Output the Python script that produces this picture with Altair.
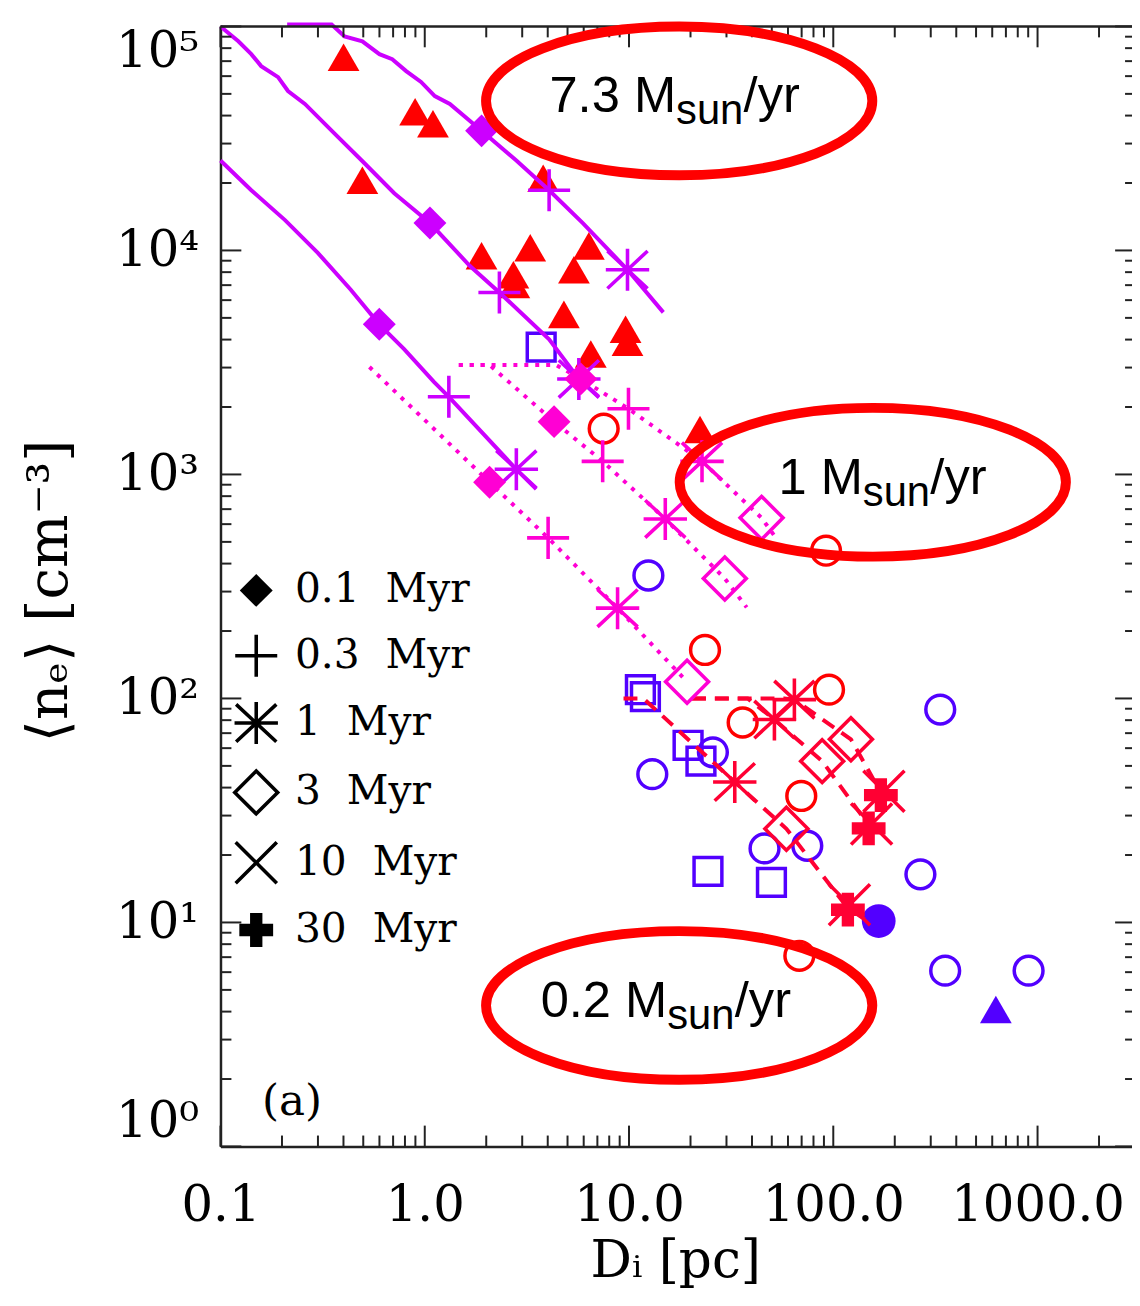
import math
import altair as alt
import pandas as pd

W, H = 918, 1128

# ---------------- model tracks ----------------
line_a_x = [0.212, 0.35, 0.405, 0.495, 0.6, 0.693, 0.811, 0.959, 1.12, 1.327, 1.897, 2.808, 4.063, 5.94, 9.83, 14.72]
line_a_y = [1.02e5, 1.02e5, 90300, 85800, 75200, 71400, 63200, 56500, 48900, 45100, 34200, 25200, 18560, 13250, 8200, 5290]
line_b_x = [0.1, 0.1223, 0.1415, 0.1582, 0.1914, 0.214, 0.259, 0.362, 0.507, 0.709, 1.06, 1.66, 2.32, 4.063, 5.68, 7.11]
line_b_y = [1e5, 85800, 75200, 66500, 59400, 51500, 45100, 33200, 24500, 18000, 13250, 8545, 6490, 4015, 2670, 2222]
line_c_x = [0.1, 0.1415, 0.207, 0.2995, 0.4333, 0.599, 0.7925, 1.109, 1.312, 2.808, 3.513]
line_c_y = [25200, 18560, 13660, 9760, 6690, 4680, 3625, 2590, 2222, 1054, 860]

dot_t_x = [1.468, 4.393, 5.81, 9.94, 22.77, 44.55, 51.5]
dot_t_y = [3080, 3080, 2670, 1965, 1144, 640, 532]
dot_m_x = [1.468, 2.076, 4.296, 7.43, 15.05, 29.44, 37.67]
dot_m_y = [3080, 3080, 1721, 1144, 633, 343, 255]
dot_l_x = [0.536, 2.076, 4.017, 8.79, 19.24]
dot_l_y = [3018, 923, 521, 253, 118.7]

dash_1_x = [9.40, 11.76, 32.94, 58.95, 117.9, 152.6]
dash_1_y = [100, 100, 42.35, 26.2, 11.58, 9.94]
dash_2_x = [20.35, 38.08, 51.5, 88.2, 150.9]
dash_2_y = [100, 100, 80.5, 52.5, 26.8]
dash_3_x = [20.35, 57.6, 64.5, 122, 172.5]
dash_3_y = [100, 100, 98.8, 65.7, 37.5]

# ---------------- model age markers ----------------
ages = ["0.1 Myr", "0.3 Myr", "1 Myr", "3 Myr", "10 Myr", "30 Myr"]

mk_solid_age = ["0.1 Myr", "0.3 Myr", "1 Myr"] * 3
mk_solid_x = [1.897, 4.063, 9.83, 1.06, 2.32, 5.68, 0.599, 1.312, 2.808]
mk_solid_y = [34200, 18560, 8200, 13250, 6490, 2670, 4680, 2222, 1054]

mk_dot_age = ["0.1 Myr", "0.3 Myr", "1 Myr", "3 Myr"] * 3
mk_dot_x = [5.81, 9.94, 22.77, 44.55, 4.296, 7.43, 15.05, 29.44, 2.076, 4.017, 8.79, 19.24]
mk_dot_y = [2670, 1965, 1144, 640, 1721, 1144, 633, 343, 923, 521, 253, 118.7]

mk_dash_age = ["1 Myr", "3 Myr", "10 Myr", "30 Myr"] * 3
mk_dash_x = [32.94, 58.95, 120, 117.9, 51.5, 88.2, 154, 149, 64.5, 122, 177, 171]
mk_dash_y = [42.35, 26.2, 12.0, 11.4, 80.5, 52.5, 27.5, 26.3, 98.8, 65.7, 38.5, 37.0]

# ---------------- observed regions ----------------
red_tri_x = [0.4005, 0.897, 1.097, 0.495, 3.80, 1.897, 3.284, 2.716, 2.746, 6.36, 5.375, 4.80, 9.62, 9.83, 6.50, 22.26]
red_tri_y = [72900, 41600, 36800, 20560, 20980, 9465, 10270, 7795, 7040, 10480, 8200, 5183, 4446, 3893, 3445, 1586]

blue_sq_x = [3.715, 11.37, 12.03, 19.46, 22.5, 24.35, 49.8]
blue_sq_y = [3701, 109.4, 101.9, 61.8, 52.5, 16.9, 15.1]

blue_ci_x = [12.44, 13.0, 25.74, 46.07, 74.6, 333.9, 267, 353, 904]
blue_ci_y = [353.9, 45.9, 57.5, 21.4, 22.0, 89.2, 16.4, 6.09, 6.09]

blue_dot_x = [166.9]
blue_dot_y = [10.15]
blue_tri_x = [625]
blue_tri_y = [4.09]

red_ci_x = [7.515, 23.55, 36.0, 95.3, 69.7, 92.2, 68.2]
red_ci_y = [1602, 164.6, 78.1, 109.4, 36.7, 456.6, 7.10]

# ---------------- annotations ----------------
ann_main = ["7.3 M", "1 M", "0.2 M"]
ann_x = [17.0, 139.5, 15.39]
ann_y = [41600, 817, 3.77]
ell_x = [17.6, 156.1, 17.6]
ell_y = [46500, 923, 4.26]

panel_label = ["(a)"]
panel_x = [0.224]
panel_y = [1.58]

# ---------------- axis ticks ----------------
x_major = [0.1, 1, 10, 100, 1000]
x_labels = ["0.1", "1.0", "10.0", "100.0", "1000.0"]
x_minor = [0.2, 0.3, 0.4, 0.5, 0.6, 0.7, 0.8, 0.9,
           2, 3, 4, 5, 6, 7, 8, 9,
           20, 30, 40, 50, 60, 70, 80, 90,
           200, 300, 400, 500, 600, 700, 800, 900, 2000]
y_major = [1, 10, 100, 1000, 10000, 100000]
y_labels = ["10⁰", "10¹", "10²", "10³", "10⁴", "10⁵"]
y_minor = [2, 3, 4, 5, 6, 7, 8, 9,
           20, 30, 40, 50, 60, 70, 80, 90,
           200, 300, 400, 500, 600, 700, 800, 900,
           2000, 3000, 4000, 5000, 6000, 7000, 8000, 9000,
           20000, 30000, 40000, 50000, 60000, 70000, 80000, 90000]

# ---------------- styles ----------------
VIOLET = "#CC00FF"
PINK = "#FF00D4"
CRIMSON = "#FF0033"
RED = "#FF0000"
BLUE = "#5200FF"
FRAME = "#222222"
SERIF = "DejaVu Serif"

# marker glyphs: all drawn as filled outlines (unit box -1..1, 1 unit = 23 px at size 2116)
LW = 0.078  # half line width in unit coords (~3.6 px lines)


def bar(x1, y1, x2, y2, w=LW):
    dx, dy = x2 - x1, y2 - y1
    L = math.hypot(dx, dy)
    nx, ny = -dy / L * w, dx / L * w
    pts_ = [(x1 + nx, y1 + ny), (x2 + nx, y2 + ny), (x2 - nx, y2 - ny), (x1 - nx, y1 - ny)]
    return "M" + "L".join(f"{a:.3f},{b:.3f}" for a, b in pts_) + "Z"


P_DIAMOND = "M0,-0.72L0.72,0L0,0.72L-0.72,0Z"
P_PLUS = bar(-0.92, 0, 0.92, 0) + bar(0, -0.92, 0, 0.92)
P_ASTER = (bar(-0.95, 0, 0.95, 0) + bar(0, -0.92, 0, 0.92)
           + bar(-0.88, -0.82, 0.88, 0.82) + bar(-0.88, 0.82, 0.88, -0.82))
P_HDIAMOND = "M0,-1.05L1.05,0L0,1.05L-1.05,0ZM0,-0.83L-0.83,0L0,0.83L0.83,0Z"
P_X = bar(-0.9, -0.9, 0.9, 0.9) + bar(-0.9, 0.9, 0.9, -0.9)
P_CROSS = ("M-0.74,-0.27L-0.27,-0.27L-0.27,-0.74L0.27,-0.74L0.27,-0.27L0.74,-0.27"
           "L0.74,0.27L0.27,0.27L0.27,0.74L-0.27,0.74L-0.27,0.27L-0.74,0.27Z")
P_ELLIPSE = ("M-1,0C-1,-0.213 -0.552,-0.385 0,-0.385C0.552,-0.385 1,-0.213 1,0"
             "C1,0.213 0.552,0.385 0,0.385C-0.552,0.385 -1,0.213 -1,0Z")

xs = alt.Scale(type="log", domain=[0.1, 2900], nice=False)
ys = alt.Scale(type="log", domain=[1, 100000], nice=False)

x_label_expr = " : ".join(
    f"datum.value == {v} ? '{t}'" for v, t in zip(x_major[:-1], x_labels[:-1])) + f" : '{x_labels[-1]}'"
y_label_expr = " : ".join(
    f"datum.value == {v} ? '{t}'" for v, t in zip(y_major[:-1], y_labels[:-1])) + f" : '{y_labels[-1]}'"

x_axis = alt.Axis(values=x_major, labelExpr=x_label_expr, ticks=False, tickSize=0, grid=False,
                  domain=True, domainColor=FRAME, domainWidth=2.5,
                  labelFont=SERIF, labelFontSize=50, labelColor="black", labelPadding=35,
                  labelFlush=False, labelOverlap=False,
                  title="Dᵢ [pc]", titleFont=SERIF, titleFontSize=52, titleFontWeight="normal",
                  titleColor="black", titleX=458, titleY=131, titleAlign="center",
                  titleBaseline="alphabetic")
y_axis = alt.Axis(values=y_major, labelExpr=y_label_expr, ticks=False, tickSize=0, grid=False,
                  domain=True, domainColor=FRAME, domainWidth=2.5,
                  labelFont=SERIF, labelFontSize=50, labelColor="black", labelPadding=22,
                  labelFlush=True, labelOverlap=False,
                  title="⟨nₑ⟩ [cm⁻³]", titleFont=SERIF, titleFontSize=57, titleFontWeight="normal",
                  titleColor="black", titleAngle=270, titleX=-172, titleY=568,
                  titleAlign="center", titleBaseline="middle")


def X(field="x"):
    return alt.X(f"{field}:Q", scale=xs, axis=x_axis)


def Y(field="y"):
    return alt.Y(f"{field}:Q", scale=ys, axis=y_axis)


def pts(xv, yv):
    return pd.DataFrame({"x": xv, "y": yv})


def track(name, xv, yv):
    return pd.DataFrame({"series": name, "x": xv, "y": yv, "i": list(range(len(xv)))})


layers = []

# thin grey line at the very top of the image
layers.append(alt.Chart(pd.DataFrame({"a": [0]})).mark_rule(color="#9c9c9c", strokeWidth=2).encode(
    y=alt.value(-20), x=alt.value(-162), x2=alt.value(W)))

# observed regions
layers.append(alt.Chart(pts(blue_sq_x, blue_sq_y)).mark_point(
    shape="square", filled=False, color=BLUE, strokeWidth=3.5, size=784, opacity=1).encode(x=X(), y=Y()))
layers.append(alt.Chart(pts(blue_ci_x, blue_ci_y)).mark_point(
    shape="circle", filled=False, color=BLUE, strokeWidth=3.5, size=841, opacity=1).encode(x=X(), y=Y()))
layers.append(alt.Chart(pts(red_ci_x, red_ci_y)).mark_point(
    shape="circle", filled=False, color=RED, strokeWidth=3.5, size=841, opacity=1).encode(x=X(), y=Y()))
layers.append(alt.Chart(pts(red_tri_x, red_tri_y)).mark_point(
    shape="triangle-up", filled=True, color=RED, size=1024, opacity=1).encode(x=X(), y=Y()))
layers.append(alt.Chart(pts(blue_dot_x, blue_dot_y)).mark_point(
    shape="circle", filled=True, color=BLUE, size=1156, opacity=1).encode(x=X(), y=Y()))
layers.append(alt.Chart(pts(blue_tri_x, blue_tri_y)).mark_point(
    shape="triangle-up", filled=True, color=BLUE, size=1024, opacity=1).encode(x=X(), y=Y()))

# model tracks
solid_df = pd.concat([track("A", line_a_x, line_a_y), track("B", line_b_x, line_b_y),
                      track("C", line_c_x, line_c_y)])
dot_df = pd.concat([track("Dt", dot_t_x, dot_t_y), track("Dm", dot_m_x, dot_m_y),
                    track("Dl", dot_l_x, dot_l_y)])
dash_df = pd.concat([track("R1", dash_1_x, dash_1_y), track("R2", dash_2_x, dash_2_y),
                     track("R3", dash_3_x, dash_3_y)])
layers.append(alt.Chart(solid_df).mark_line(color=VIOLET, strokeWidth=4).encode(
    x=X(), y=Y(), detail="series:N", order="i:Q"))
layers.append(alt.Chart(dot_df).mark_line(color=PINK, strokeWidth=4, strokeDash=[4, 7]).encode(
    x=X(), y=Y(), detail="series:N", order="i:Q"))
layers.append(alt.Chart(dash_df).mark_line(color=CRIMSON, strokeWidth=4, strokeDash=[14, 9]).encode(
    x=X(), y=Y(), detail="series:N", order="i:Q"))

# age markers
mk_df = pd.concat([
    pd.DataFrame({"group": "solid", "age": mk_solid_age, "x": mk_solid_x, "y": mk_solid_y}),
    pd.DataFrame({"group": "dotted", "age": mk_dot_age, "x": mk_dot_x, "y": mk_dot_y}),
    pd.DataFrame({"group": "dashed", "age": mk_dash_age, "x": mk_dash_x, "y": mk_dash_y}),
])
shape_scale = alt.Scale(domain=ages, range=[P_DIAMOND, P_PLUS, P_ASTER, P_HDIAMOND, P_X, P_CROSS])
group_scale = alt.Scale(domain=["solid", "dotted", "dashed"], range=[VIOLET, PINK, CRIMSON])

legend = alt.Legend(orient="none", legendX=13, legendY=545, title=None, padding=0,
                    rowPadding=22.8, symbolSize=2116, symbolStrokeWidth=0, symbolOpacity=1,
                    symbolFillColor="black", symbolStrokeColor="black",
                    labelFont=SERIF, labelFontSize=41, labelColor="black", labelOffset=16,
                    labelLimit=600,
                    labelExpr="replace(datum.label, ' ', '\u00a0\u00a0')")

# invisible layer that carries the black legend
layers.append(alt.Chart(mk_df).mark_point(filled=True, color="black", strokeWidth=0,
                                          size=2116, opacity=0).encode(
    x=X(), y=Y(), shape=alt.Shape("age:N", scale=shape_scale, legend=legend)))
layers.append(alt.Chart(mk_df).mark_point(filled=True, strokeWidth=0, size=2116, opacity=1).encode(
    x=X(), y=Y(),
    shape=alt.Shape("age:N", scale=shape_scale, legend=None),
    fill=alt.Fill("group:N", scale=group_scale, legend=None)))


# frame ticks (inward)
def xticks(vals, top, length):
    y0, y1 = (0, length) if top else (H, H - length)
    return alt.Chart(pd.DataFrame({"x": vals})).mark_rule(color=FRAME, strokeWidth=2).encode(
        x=X(), y=alt.value(y0), y2=alt.value(y1))


def yticks(vals, right, length):
    x0, x1 = (W, W - length) if right else (0, length)
    return alt.Chart(pd.DataFrame({"y": vals})).mark_rule(color=FRAME, strokeWidth=2).encode(
        y=Y(), x=alt.value(x0), x2=alt.value(x1))


layers += [xticks(x_major, False, 21), xticks(x_minor, False, 11),
           xticks(x_major, True, 21), xticks(x_minor, True, 11),
           yticks(y_major, False, 21), yticks(y_minor, False, 11),
           yticks(y_major, True, 17), yticks(y_minor, True, 7)]
layers.append(alt.Chart(pd.DataFrame({"y": [y_major[-1]]})).mark_rule(color=FRAME, strokeWidth=2.5).encode(
    y=Y(), x=alt.value(0), x2=alt.value(W)))

# rate annotations
ell_df = pd.DataFrame({"x": ell_x, "y": ell_y})
layers.append(alt.Chart(ell_df).mark_point(shape=P_ELLIPSE, filled=False, color=RED, strokeWidth=10,
                                           size=151321, opacity=1).encode(x=X(), y=Y()))
ann_df = pd.DataFrame({"x": ann_x, "y": ann_y, "t": ann_main})
layers.append(alt.Chart(ann_df).mark_text(align="right", baseline="alphabetic", font="Liberation Sans",
                                          fontSize=51, color="black").encode(x=X(), y=Y(), text="t:N"))
layers.append(alt.Chart(ann_df).mark_text(align="left", baseline="alphabetic", font="Liberation Sans",
                                          fontSize=42, color="black", dy=12).encode(
    x=X(), y=Y(), text=alt.value("sun")))
layers.append(alt.Chart(ann_df).mark_text(align="left", baseline="alphabetic", font="Liberation Sans",
                                          fontSize=51, color="black", dx=68).encode(
    x=X(), y=Y(), text=alt.value("/yr")))

# panel label
layers.append(alt.Chart(pd.DataFrame({"x": panel_x, "y": panel_y, "t": panel_label})).mark_text(
    align="center", baseline="middle", font=SERIF, fontSize=44, color="black").encode(
    x=X(), y=Y(), text="t:N"))

chart = alt.layer(*layers).properties(
    width=W, height=H,
    padding={"left": 214, "top": 14, "right": 0, "bottom": 142},
    autosize=alt.AutoSizeParams(type="none"),
    background="white",
).configure_view(stroke=None)

chart.save("out.html", embed_options={"renderer": "svg", "actions": False})
